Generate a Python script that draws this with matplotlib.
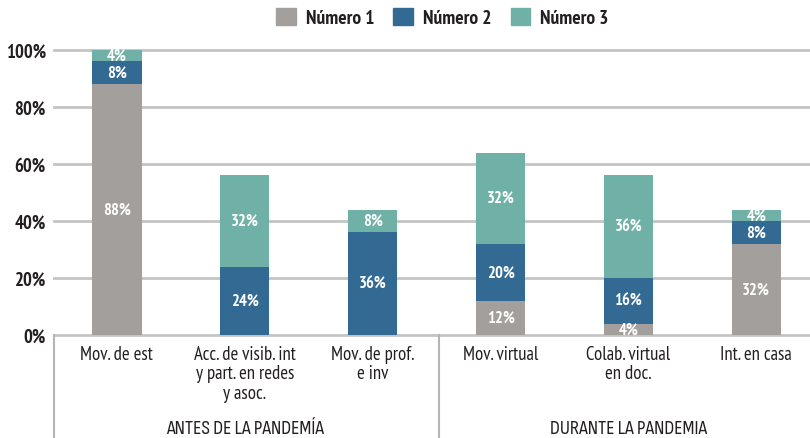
import matplotlib
matplotlib.use('Agg')
import matplotlib.pyplot as plt
import numpy as np
from matplotlib.patches import Patch

plt.rcParams['font.family'] = ['PT Sans Narrow', 'DejaVu Sans']

# Data
categories = ['Mov. de est', 'Acc. de visib. int\ny part. en redes\ny asoc.', 'Mov. de prof.\ne inv',
              'Mov. virtual', 'Colab. virtual\nen doc.', 'Int. en casa']
groups = ['ANTES DE LA PANDEMÍA', 'DURANTE LA PANDEMIA']
series_names = ['Número 1', 'Número 2', 'Número 3']
numero1 = [88, 0, 0, 12, 4, 32]
numero2 = [8, 24, 36, 20, 16, 8]
numero3 = [4, 32, 8, 32, 36, 4]
yticks = [0, 20, 40, 60, 80, 100]

colors = ['#A39F9C', '#336A94', '#6FB0A7']
text_dark = '#231F20'

fig = plt.figure(figsize=(8.1, 4.39), dpi=100)
ax = fig.add_axes([0.067, 0.2346, 0.933, 0.6492])

x = np.arange(len(categories))
width = 0.385
bottom = np.zeros(len(categories))
for vals, col in zip([numero1, numero2, numero3], colors):
    vals = np.array(vals)
    ax.bar(x, vals, width, bottom=bottom, color=col, zorder=3)
    for xi, b, v in zip(x, bottom, vals):
        if v > 0:
            ax.text(xi, b + v / 2, f'{v}%', ha='center', va='center', color='white',
                    fontsize=12, fontweight='bold', zorder=4)
    bottom += vals

ax.set_xlim(-0.49, 5.42)
ax.set_ylim(0, 100)
ax.set_yticks(yticks)
ax.set_yticklabels([f'{t}%' for t in yticks], fontsize=13.5, fontweight='bold', color=text_dark)
for t in yticks:
    ax.axhline(t, color='#C4C4C4', lw=2, zorder=1, clip_on=False)
ax.tick_params(axis='y', length=0, pad=6)
ax.tick_params(axis='x', length=0, pad=7)
ax.set_xticks(x)
ax.set_xticklabels(categories, fontsize=13.5, color=text_dark, linespacing=1.12, va='top')
for s in ax.spines.values():
    s.set_visible(False)

# vertical separators below the axis
for xv in [-0.49, 2.52]:
    ax.plot([xv, xv], [0, -0.37], transform=ax.get_xaxis_transform(), color='#B5B5B5',
            lw=1.5, clip_on=False)

for xc, g in zip([1.0, 4.0], groups):
    ax.text(xc, -0.325, g, transform=ax.get_xaxis_transform(), ha='center', va='center',
            fontsize=14.5, color=text_dark, family=['Sofia Sans Condensed', 'DejaVu Sans'],
            fontweight='light')

handles = [Patch(color=c) for c in colors]
leg = fig.legend(handles, series_names, loc='center', bbox_to_anchor=(0.546, 0.958), ncol=3,
                 frameon=False, handlelength=1.0, handleheight=1.0, handletextpad=0.5,
                 columnspacing=1.0, prop={'weight': 'bold', 'size': 14})
for t in leg.get_texts():
    t.set_color(text_dark)

fig.savefig('out.png', dpi=100)
